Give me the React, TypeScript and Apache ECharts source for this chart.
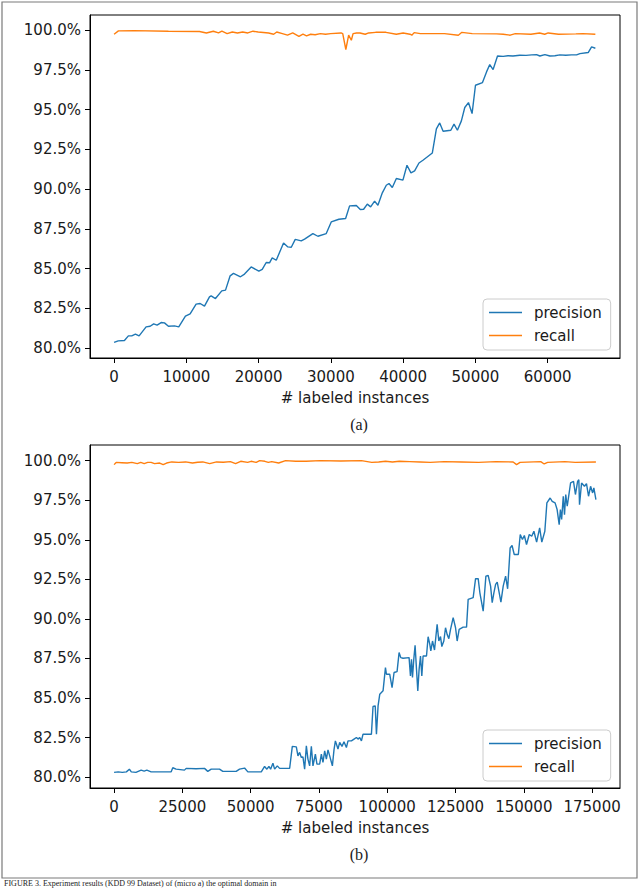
import React, { useEffect, useRef } from "react";
import * as echarts from "echarts";

// ---------- Panel (a) ----------
const precisionAX = [0, 570, 1430, 1980, 2440, 2950, 3460, 4430, 4990, 5480, 5950, 6510, 6970, 7520, 8350, 8950, 9870, 10520, 11350, 11910, 12510, 13200, 13430, 14030, 14900, 15420, 16060, 16520, 17490, 18050, 18970, 20030, 20500, 21050, 21510, 21880, 22440, 23450, 24050, 24520, 25070, 25900, 26360, 27510, 28200, 29360, 30050, 31110, 32040, 32590, 33520, 34070, 34530, 35040, 35500, 36050, 36510, 37120, 37670, 38040, 38500, 39060, 39970, 40530, 41080, 41590, 42190, 42740, 44040, 44600, 45060, 45530, 46600, 47040, 47510, 48060, 48530, 49040, 49540, 50010, 50980, 51540, 51990, 52450, 53060, 53840, 54500, 55200, 56150, 57000, 57800, 58460, 58920, 59610, 60310, 61000, 61690, 62500, 63300, 64000, 64460, 65610, 66080, 66600];
const precisionAY = [80.36, 80.46, 80.48, 80.77, 80.77, 80.88, 80.77, 81.34, 81.38, 81.53, 81.45, 81.61, 81.59, 81.38, 81.4, 81.34, 82.01, 82.16, 82.77, 82.81, 82.64, 83.23, 83.29, 83.12, 83.6, 83.65, 84.55, 84.7, 84.49, 84.66, 85.11, 84.84, 84.95, 85.39, 85.37, 85.68, 85.53, 86.62, 86.37, 86.35, 86.84, 86.75, 86.86, 87.21, 87.04, 87.21, 87.94, 88.11, 88.16, 88.95, 88.97, 88.72, 88.74, 89.06, 88.89, 89.25, 88.99, 89.77, 90.25, 90.36, 90.11, 90.67, 90.57, 91.51, 91.03, 91.15, 91.65, 91.82, 92.28, 93.79, 94.17, 93.65, 93.71, 94.09, 93.71, 94.3, 95.14, 95.45, 94.76, 96.54, 96.71, 97.38, 97.84, 97.53, 98.38, 98.36, 98.4, 98.38, 98.43, 98.42, 98.45, 98.47, 98.38, 98.47, 98.38, 98.4, 98.45, 98.43, 98.45, 98.45, 98.53, 98.6, 98.95, 98.87];

const recallAX = [0, 600, 2740, 7520, 11820, 12770, 13730, 14450, 14920, 15640, 16360, 17070, 17790, 18510, 19220, 19940, 21380, 22080, 22510, 23290, 24000, 24720, 25580, 26140, 26630, 27200, 27820, 28540, 29260, 29970, 31410, 31640, 32070, 32460, 32830, 33070, 33550, 34030, 34750, 35230, 36190, 37620, 39060, 40000, 40950, 41200, 41530, 42390, 43820, 45730, 47640, 48130, 49560, 52910, 53850, 54810, 55530, 57680, 58880, 59590, 60070, 61500, 63900, 64850, 66600];
const recallAY = [99.75, 99.96, 99.98, 99.94, 99.92, 99.83, 99.94, 99.83, 99.94, 99.79, 99.89, 99.83, 99.89, 99.83, 99.94, 99.89, 99.83, 99.75, 99.89, 99.79, 99.69, 99.83, 99.62, 99.75, 99.65, 99.75, 99.72, 99.79, 99.75, 99.79, 99.83, 99.79, 98.79, 99.69, 99.37, 99.79, 99.83, 99.83, 99.75, 99.83, 99.87, 99.87, 99.75, 99.83, 99.75, 99.69, 99.85, 99.79, 99.79, 99.79, 99.69, 99.87, 99.79, 99.77, 99.75, 99.69, 99.79, 99.75, 99.83, 99.75, 99.83, 99.75, 99.77, 99.79, 99.75];

// ---------- Panel (b) ----------
const precisionBX = [0, 1500, 3000, 4500, 5600, 6300, 8000, 9900, 11000, 12000, 13560, 17000, 20900, 21480, 22700, 25770, 26390, 30000, 33100, 34310, 35560, 38600, 39810, 44700, 45930, 47770, 48980, 53890, 55100, 55950, 56680, 57300, 58150, 58770, 59750, 60600, 64270, 65250, 66720, 67310, 67930, 68550, 69140, 69760, 70390, 70970, 71590, 72220, 72810, 73690, 74270, 75260, 75880, 76470, 77100, 77720, 78310, 78930, 79920, 80510, 81020, 81970, 82590, 83440, 84170, 85050, 85640, 86890, 87840, 88720, 89300, 89930, 90550, 91140, 94210, 94800, 95600, 96050, 96650, 97270, 98470, 99350, 99710, 100900, 101770, 102500, 103600, 104340, 104960, 105800, 108000, 108500, 108880, 109250, 109720, 110200, 110720, 111190, 111670, 112180, 112660, 113130, 114380, 114970, 115590, 115960, 116580, 117310, 118270, 118890, 119510, 119990, 120720, 121340, 121930, 122560, 123180, 124140, 125010, 125600, 126330, 127800, 129040, 129630, 131460, 132340, 133300, 133920, 135130, 136120, 136960, 137840, 138430, 139050, 139680, 140270, 140880, 141620, 142460, 143340, 144080, 145000, 145700, 146500, 148000, 148700, 149500, 150200, 151000, 152000, 152900, 153700, 154700, 155800, 156600, 157700, 158450, 159650, 160400, 161450, 162200, 162950, 163400, 163850, 164450, 164900, 165350, 165900, 167130, 168200, 168900, 169700, 170150, 170400, 171150, 172200, 172950, 173700, 174450, 175200, 175650, 176400];
const precisionBY = [80.3, 80.33, 80.3, 80.33, 80.5, 80.33, 80.3, 80.44, 80.38, 80.44, 80.33, 80.33, 80.33, 80.59, 80.5, 80.44, 80.55, 80.53, 80.55, 80.36, 80.5, 80.5, 80.36, 80.36, 80.5, 80.57, 80.33, 80.33, 80.67, 80.5, 80.67, 80.5, 80.88, 80.5, 80.71, 80.55, 80.55, 81.94, 81.91, 81.34, 81.56, 81.24, 81.28, 80.5, 81.97, 81.14, 80.71, 81.94, 80.71, 81.45, 80.82, 80.82, 81.45, 80.93, 81.66, 81.14, 81.72, 81.34, 80.71, 81.72, 82.29, 81.77, 82.19, 81.94, 82.23, 81.87, 82.29, 82.29, 82.4, 82.5, 82.4, 82.5, 82.29, 82.71, 82.71, 84.46, 84.5, 82.71, 84.5, 85.24, 85.45, 86.92, 86.5, 86.5, 85.66, 86.61, 86.67, 87.87, 87.55, 87.51, 87.55, 86.39, 87.44, 86.29, 87.44, 88.33, 86.81, 85.45, 86.81, 87.65, 86.39, 87.65, 87.65, 88.87, 88.39, 87.97, 88.6, 88.03, 89.65, 88.6, 88.88, 88.25, 88.6, 89.44, 89.02, 88.75, 89.34, 90.08, 89.44, 88.6, 89.34, 89.48, 89.48, 91.23, 91.34, 92.54, 92.54, 91.65, 90.49, 92.7, 92.74, 92.07, 91.02, 91.65, 92.18, 92.32, 91.75, 91.06, 92.07, 92.7, 91.9, 94.49, 94.64, 94.07, 94.07, 95.33, 95.02, 95.27, 94.7, 95.33, 95.22, 95.54, 94.85, 95.75, 94.85, 95.54, 97.33, 97.64, 97.43, 97.33, 96.91, 95.96, 96.91, 96.28, 97.75, 96.59, 97.86, 97.12, 98.59, 98.69, 97.86, 98.69, 98.8, 97.22, 98.59, 98.38, 98.55, 97.75, 98.38, 97.96, 98.28, 97.54];

const recallBX = [0, 760, 2800, 4800, 6500, 8500, 9760, 11020, 12300, 13550, 14810, 16700, 17960, 19230, 21120, 23600, 26170, 28690, 30600, 32480, 35000, 37530, 40000, 42580, 44470, 46360, 48890, 50150, 52040, 53300, 55200, 56460, 57720, 60250, 62770, 66500, 70350, 75400, 83000, 90550, 94340, 96860, 99390, 101910, 104440, 108200, 112010, 115800, 120850, 127160, 133470, 139780, 146100, 147360, 148620, 156200, 157460, 158720, 165030, 168820, 176400];
const recallBY = [99.75, 99.89, 99.87, 99.85, 99.89, 99.81, 99.89, 99.81, 99.89, 99.89, 99.81, 99.85, 99.75, 99.85, 99.92, 99.89, 99.92, 99.85, 99.9, 99.92, 99.81, 99.92, 99.9, 99.94, 99.81, 99.96, 99.89, 99.96, 99.89, 100.0, 99.96, 99.89, 99.94, 99.85, 100.0, 99.96, 99.96, 100.0, 99.98, 100.0, 99.89, 99.92, 99.96, 99.92, 99.96, 99.94, 99.92, 99.89, 99.94, 99.92, 99.89, 99.94, 99.92, 99.75, 99.89, 99.94, 99.79, 99.89, 99.94, 99.89, 99.92];

const xTicksA = [0, 10000, 20000, 30000, 40000, 50000, 60000];
const xTicksB = [0, 25000, 50000, 75000, 100000, 125000, 150000, 175000];
const yTicks = [80, 82.5, 85, 87.5, 90, 92.5, 95, 97.5, 100];

const zip = (xs: number[], ys: number[]) => xs.map((x, i) => [x, ys[i]]);

const FONT = "DejaVu Sans";
const TXT = "#1a1a1a";

function xAxisCfg(gridIndex: number, min: number, max: number, ticks: number[]) {
  return {
    type: "value",
    gridIndex,
    min,
    max,
    name: "# labeled instances",
    nameLocation: "middle",
    nameGap: 32,
    nameTextStyle: { fontFamily: FONT, fontSize: 15, color: TXT },
    axisLine: { show: true, onZero: false, lineStyle: { color: "#000", width: 1 } },
    axisTick: { show: true, length: 5, lineStyle: { color: "#000" }, customValues: ticks },
    axisLabel: { margin: 11, fontFamily: FONT, fontSize: 15, color: TXT, customValues: ticks, formatter: (v: number) => String(v) },
    splitLine: { show: false },
  };
}

function yAxisCfg(gridIndex: number, min: number, max: number) {
  return {
    type: "value",
    gridIndex,
    min,
    max,
    axisLine: { show: true, onZero: false, lineStyle: { color: "#000", width: 1 } },
    axisTick: { show: true, length: 5, lineStyle: { color: "#000" }, customValues: yTicks },
    axisLabel: { margin: 9, fontFamily: FONT, fontSize: 15, color: TXT, customValues: yTicks, formatter: (v: number) => v.toFixed(1) + "%" },
    splitLine: { show: false },
  };
}

function legendCfg(top: number) {
  return {
    orient: "vertical",
    left: 483,
    top,
    data: ["precision", "recall"],
    icon: "rect",
    itemWidth: 33,
    itemHeight: 1.6,
    itemGap: 6,
    padding: [5, 9, 6, 6],
    borderColor: "#cccccc",
    borderWidth: 1,
    borderRadius: 4,
    backgroundColor: "rgba(255,255,255,0.8)",
    textStyle: { fontFamily: FONT, fontSize: 15, color: TXT, lineHeight: 17, padding: [0, 0, 0, 7] },
  };
}

function lineSeries(name: string, color: string, idx: number, data: number[][]) {
  return {
    type: "line",
    name,
    xAxisIndex: idx,
    yAxisIndex: idx,
    data,
    symbol: "none",
    showSymbol: false,
    color,
    lineStyle: { color, width: 1.4 },
    emphasis: { disabled: true },
  };
}

export default function App() {
  const ref = useRef<HTMLDivElement>(null);
  useEffect(() => {
    if (!ref.current) return;
    const chart = echarts.init(ref.current, null, { renderer: "svg" });
    chart.setOption({
      animation: false,
      backgroundColor: "#fff",
      grid: [
        { left: 90, top: 15, width: 530, height: 343, show: true, borderColor: "#000", borderWidth: 1, backgroundColor: "transparent" },
        { left: 90, top: 445, width: 530, height: 343, show: true, borderColor: "#000", borderWidth: 1, backgroundColor: "transparent" },
      ],
      xAxis: [xAxisCfg(0, -3334, 70010, xTicksA), xAxisCfg(1, -8820, 185220, xTicksB)],
      yAxis: [yAxisCfg(0, 79.38, 100.96), yAxisCfg(1, 79.31, 100.99)],
      legend: [legendCfg(299), legendCfg(730)],
      series: [
        lineSeries("precision", "#1f77b4", 0, zip(precisionAX, precisionAY)),
        lineSeries("recall", "#ff7f0e", 0, zip(recallAX, recallAY)),
        lineSeries("precision", "#1f77b4", 1, zip(precisionBX, precisionBY)),
        lineSeries("recall", "#ff7f0e", 1, zip(recallBX, recallBY)),
      ],
      graphic: [
        { type: "rect", shape: { x: 2, y: 2, width: 635, height: 876 }, style: { fill: "none", stroke: "#7a7a7a", lineWidth: 1.2 }, silent: true },
        { type: "text", x: 359, y: 424, style: { text: "(a)", fontFamily: "Liberation Serif", fontSize: 16, fill: TXT, align: "center", verticalAlign: "middle" } },
        { type: "text", x: 359, y: 854, style: { text: "(b)", fontFamily: "Liberation Serif", fontSize: 16, fill: TXT, align: "center", verticalAlign: "middle" } },
        { type: "text", x: 4, y: 879, style: { text: "FIGURE 3. Experiment results (KDD 99 Dataset) of (micro a) the optimal domain in", fontFamily: "Liberation Serif", fontSize: 8, fill: "#222", align: "left", verticalAlign: "top" } },
      ],
    });
    return () => chart.dispose();
  }, []);
  return <div ref={ref} style={{ position: "fixed", left: 0, top: 0, width: 640, height: 888 }} />;
}
